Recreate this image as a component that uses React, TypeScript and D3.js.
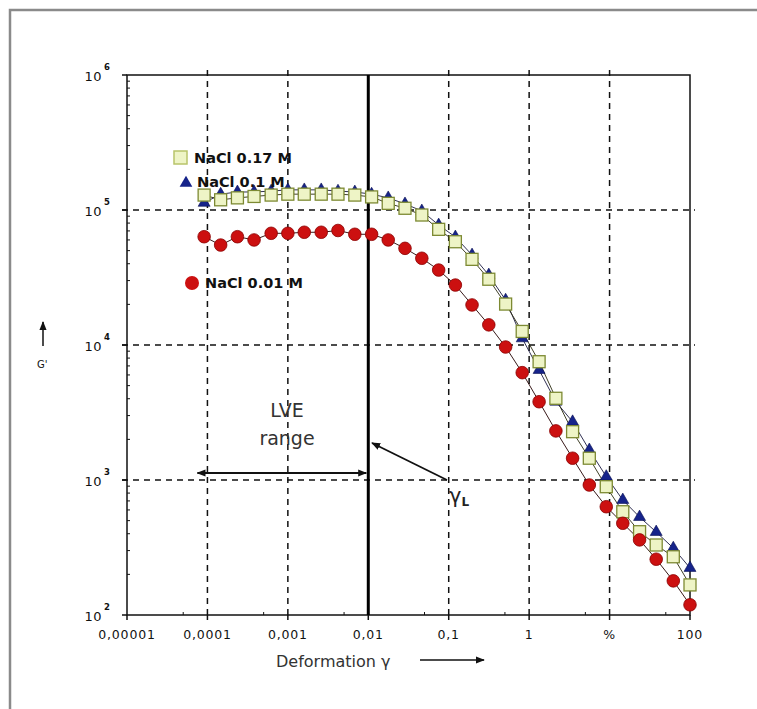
import React from "react";
import * as d3 from "d3";

// ---- data ----
const strain = [9.1e-5, 1.46e-4, 2.36e-4, 3.8e-4, 6.2e-4, 1.0e-3, 1.6e-3, 2.6e-3, 4.2e-3, 6.8e-3,
  0.011, 0.0177, 0.0286, 0.0463, 0.075, 0.121, 0.195, 0.315, 0.51, 0.82,
  1.33, 2.15, 3.47, 5.6, 9.1, 14.6, 23.6, 38, 62, 100];

const gNaCl017 = [129000, 119000, 123000, 126000, 129000, 131000, 131000, 131000, 131000, 129000,
  125000, 112000, 103000, 91800, 71900, 58200, 43100, 30700, 20100, 12600,
  7520, 4030, 2280, 1450, 892, 582, 414, 330, 270, 167];

const gNaCl01 = [113000, 131000, 136000, 136000, 138000, 141000, 141000, 141000, 138000, 136000,
  131000, 123000, 111000, 98400, 77400, 63100, 46400, 33000, 21500, 11200,
  6530, 3800, 2700, 1670, 1060, 711, 532, 412, 313, 223];

const gNaCl001 = [63400, 55000, 63400, 60000, 67200, 67200, 68400, 68400, 70500, 66100,
  66100, 60000, 52000, 43900, 35900, 27800, 19800, 14100, 9660, 6240,
  3800, 2310, 1450, 918, 634, 478, 360, 259, 179, 119];

const xTickValues = [1e-5, 1e-4, 1e-3, 1e-2, 1e-1, 1, 10, 100];
const xTickLabels = ["0,00001", "0,0001", "0,001", "0,01", "0,1", "1", "%", "100"];
const yTickValues = [1e2, 1e3, 1e4, 1e5, 1e6];
const yTickExponents = ["2", "3", "4", "5", "6"];
const legendLabels = ["NaCl 0.17 M", "NaCl 0.1 M", "NaCl 0.01 M"];
const lveStrain = 0.01;
const lveStart = 1e-4;

export default function App() {
  const W = 757, H = 709;
  const L = 127, R = 690, T = 75, B = 615;
  const x = d3.scaleLog().domain([1e-5, 100]).range([L, R]);
  const y = d3.scaleLog().domain([100, 1e6]).range([B, T]);

  const line = (vals: number[]) =>
    d3.line<number>().x((_, i) => x(strain[i])).y((v) => y(v))(vals) || "";

  const tri = d3.symbol().type(d3.symbolTriangle).size(62)() || "";

  const gridX = [1e-4, 1e-3, 1e-1, 1, 10];
  const gridY = [1e3, 1e4, 1e5];
  const minorX: number[] = [];
  for (let e = -5; e < 2; e++) minorX.push(5 * Math.pow(10, e));
  const minorY: number[] = [];
  for (let e = 2; e < 6; e++) for (let m = 2; m <= 9; m++) minorY.push(m * Math.pow(10, e));

  const font = "'DejaVu Sans', Verdana, sans-serif";
  const sqFill = "#eef4c6", sqStroke = "#7d8a33";
  const triFill = "#16238a";
  const redFill = "#cc1010", redStroke = "#8a0000";

  return (
    <svg width={W} height={H} style={{ position: "absolute", left: 0, top: 0, background: "#fff" }}
      fontFamily={font}>
      <defs>
        <marker id="ah" viewBox="0 0 10 10" refX="9" refY="5" markerWidth="9" markerHeight="9"
          orient="auto-start-reverse" markerUnits="userSpaceOnUse">
          <path d="M0,1 L10,5 L0,9 z" fill="#111" />
        </marker>
      </defs>
      {/* outer frame */}
      <rect x={10} y={10} width={900} height={900} fill="none" stroke="#8a8a8a" strokeWidth={2.5} />

      {/* grid */}
      {gridX.map((v) => (
        <line key={"gx" + v} x1={x(v)} x2={x(v)} y1={T - 5} y2={B + 5} stroke="#111"
          strokeWidth={1.5} strokeDasharray="6,5" />
      ))}
      {gridY.map((v) => (
        <line key={"gy" + v} x1={L - 5} x2={R + 5} y1={y(v)} y2={y(v)} stroke="#111"
          strokeWidth={1.5} strokeDasharray="6,5" />
      ))}
      {/* minor ticks */}
      {minorX.map((v) => (
        <line key={"mx" + v} x1={x(v)} x2={x(v)} y1={B} y2={B - 3} stroke="#111" strokeWidth={1} />
      ))}
      {minorY.map((v) => (
        <line key={"my" + v} x1={L} x2={L + 3} y1={y(v)} y2={y(v)} stroke="#111" strokeWidth={1} />
      ))}
      {/* major ticks */}
      {xTickValues.map((v) => (
        <line key={"tx" + v} x1={x(v)} x2={x(v)} y1={B} y2={B + 5} stroke="#111" strokeWidth={1.5} />
      ))}
      {yTickValues.map((v) => (
        <line key={"ty" + v} x1={L - 5} x2={L} y1={y(v)} y2={y(v)} stroke="#111" strokeWidth={1.5} />
      ))}

      {/* plot frame */}
      <rect x={L} y={T} width={R - L} height={B - T} fill="none" stroke="#111" strokeWidth={1.5} />

      {/* LVE limit line */}
      <line x1={x(lveStrain)} x2={x(lveStrain)} y1={T} y2={B} stroke="#000" strokeWidth={3} />

      {/* series lines */}
      <path d={line(gNaCl01)} fill="none" stroke="#1a1a40" strokeWidth={0.9} />
      <path d={line(gNaCl017)} fill="none" stroke="#2a2a10" strokeWidth={0.9} />
      <path d={line(gNaCl001)} fill="none" stroke="#220000" strokeWidth={0.9} />

      {/* markers */}
      {gNaCl01.map((v, i) => (
        <path key={"t" + i} d={tri} transform={`translate(${x(strain[i])},${y(v)})`} fill={triFill}
          stroke="#0a1050" strokeWidth={0.6} />
      ))}
      {gNaCl017.map((v, i) => (
        <rect key={"s" + i} x={x(strain[i]) - 6} y={y(v) - 6} width={12} height={12} fill={sqFill}
          stroke={sqStroke} strokeWidth={1.3} />
      ))}
      {gNaCl001.map((v, i) => (
        <circle key={"c" + i} cx={x(strain[i])} cy={y(v)} r={6.3} fill={redFill} stroke={redStroke}
          strokeWidth={0.8} />
      ))}

      {/* legend */}
      <rect x={174} y={151} width={13} height={13} fill={sqFill} stroke="#b8c46a" strokeWidth={1.5} />
      <text x={194} y={163} fontSize={14.5} fontWeight="bold" fill="#111">{legendLabels[0]}</text>
      <path d={d3.symbol().type(d3.symbolTriangle).size(70)() || ""} transform="translate(186,183)"
        fill={triFill} />
      <text x={197} y={187} fontSize={14.5} fontWeight="bold" fill="#111">{legendLabels[1]}</text>
      <circle cx={192} cy={283} r={7} fill={redFill} />
      <text x={205} y={288} fontSize={14.5} fontWeight="bold" fill="#111">{legendLabels[2]}</text>

      {/* x tick labels */}
      {xTickValues.map((v, i) => (
        <text key={"xl" + v} x={x(v)} y={639} fontSize={12.5} textAnchor="middle" fill="#111"
          letterSpacing={0.8}>{xTickLabels[i]}</text>
      ))}
      {/* y tick labels */}
      {yTickValues.map((v, i) => (
        <g key={"yl" + v}>
          <text x={102} y={y(v) + 6} fontSize={13} textAnchor="end" fill="#111" letterSpacing={0.5}>10</text>
          <text x={104} y={y(v) - 5} fontSize={8.5} fontWeight="bold" fill="#111">{yTickExponents[i]}</text>
        </g>
      ))}

      {/* axis titles */}
      <text x={276} y={667} fontSize={16} fill="#333">Deformation γ</text>
      <line x1={420} x2={484} y1={660} y2={660} stroke="#111" strokeWidth={1.5} markerEnd="url(#ah)" />
      <line x1={43} x2={43} y1={346} y2={322} stroke="#111" strokeWidth={1.5} markerEnd="url(#ah)" />
      <text x={37} y={368} fontSize={10} fill="#111">G'</text>

      {/* LVE annotation */}
      <text x={287} y={417} fontSize={19} textAnchor="middle" fill="#333">LVE</text>
      <text x={287} y={445} fontSize={19} textAnchor="middle" fill="#333">range</text>
      <line x1={x(lveStart) - 10} x2={x(lveStrain) - 2} y1={y(1000) - 7} y2={y(1000) - 7}
        stroke="#111" strokeWidth={1.8} markerStart="url(#ah)" markerEnd="url(#ah)" />
      <line x1={447} y1={480} x2={372} y2={443} stroke="#111" strokeWidth={1.8} markerEnd="url(#ah)" />
      <text x={449} y={503} fontSize={21} fill="#222">γ<tspan fontSize={12} dy={3} fontWeight="bold">L</tspan></text>
    </svg>
  );
}
